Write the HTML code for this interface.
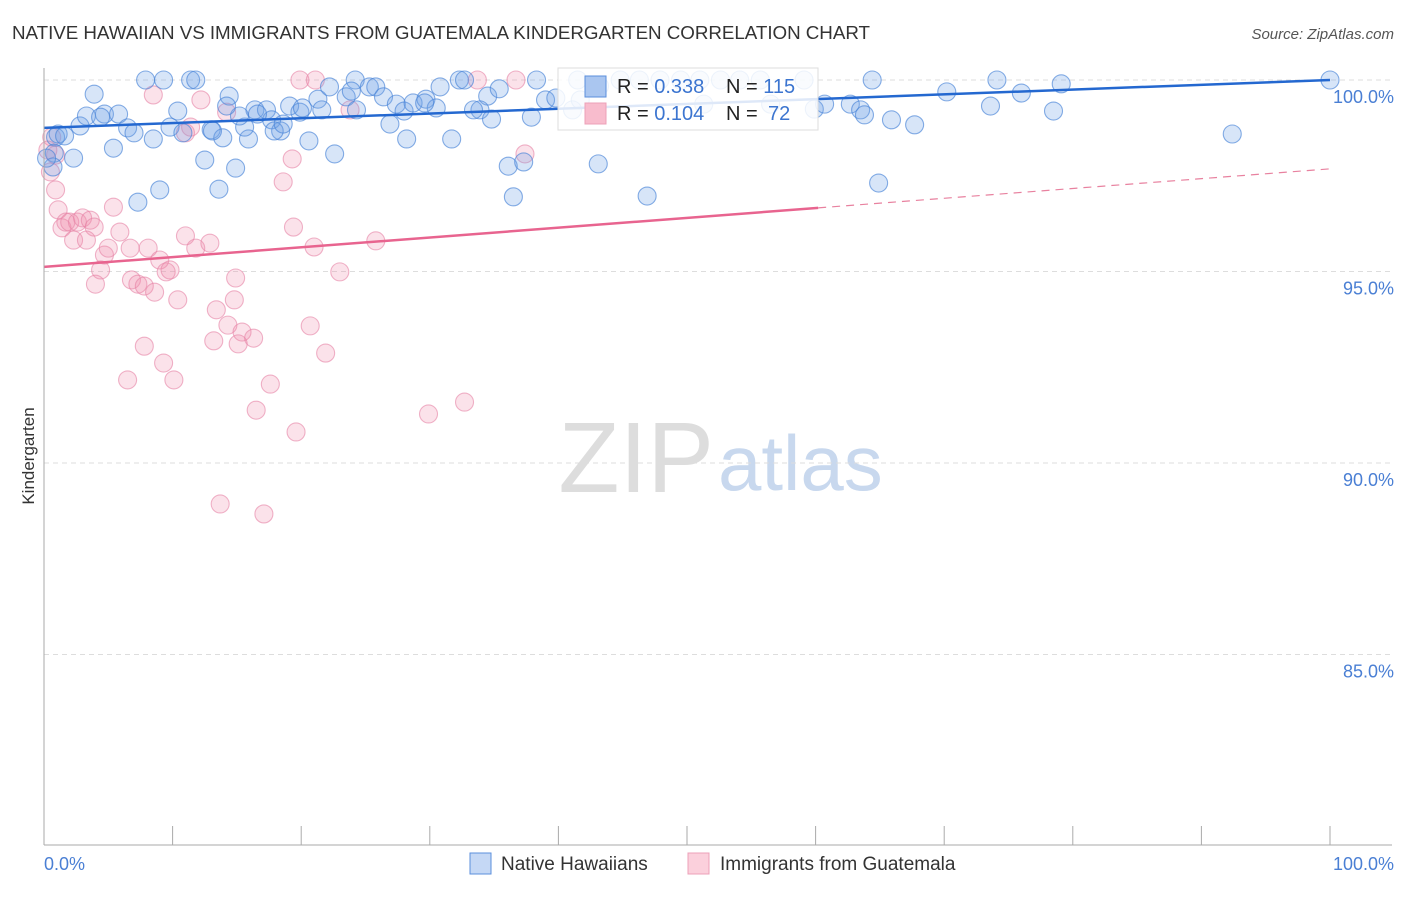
<!DOCTYPE html>
<html><head><meta charset="utf-8"><style>
body{margin:0;background:#fff;font-family:"Liberation Sans",sans-serif;}
svg text{font-family:"Liberation Sans",sans-serif;}
</style></head><body>
<svg id="c" width="1406" height="892">
<text x="12" y="39" font-size="18.8" fill="#333" textLength="858">NATIVE HAWAIIAN VS IMMIGRANTS FROM GUATEMALA KINDERGARTEN CORRELATION CHART</text>
<text x="1394" y="39" font-size="15" fill="#555" text-anchor="end" font-style="italic">Source: ZipAtlas.com</text>
<text x="714" y="492" font-size="100" fill="#ddd" text-anchor="end" font-family="Liberation Serif">ZIP</text>
<text x="718" y="490" font-size="78" fill="#c8d8ee">atlas</text>
<text x="34" y="456" font-size="17" fill="#333" text-anchor="middle" transform="rotate(-90 34 456)">Kindergarten</text>
<g id="grid"></g><g id="pts"></g><g id="lines"></g>
<line x1="44" y1="68" x2="44" y2="845" stroke="#aaa"/>
<line x1="44" y1="845" x2="1392" y2="845" stroke="#aaa"/>
<text x="44" y="870" font-size="18" fill="#4a7fd4">0.0%</text>
<text x="1394" y="870" font-size="18" fill="#4a7fd4" text-anchor="end">100.0%</text>
<g>
<rect x="558" y="68" width="260" height="62" fill="#fff" fill-opacity="0.85" stroke="#ddd"/>
<rect x="585" y="76" width="21" height="21" fill="#aac6f0" stroke="#5b8fdc"/>
<rect x="585" y="103" width="21" height="21" fill="#f8bccd" stroke="#eda0b8"/>
<text x="617" y="93" font-size="20" fill="#222">R = <tspan fill="#3c75d0">0.338</tspan><tspan x="726">N = </tspan><tspan fill="#3c75d0">115</tspan></text>
<text x="617" y="120" font-size="20" fill="#222">R = <tspan fill="#3c75d0">0.104</tspan><tspan x="726">N = </tspan><tspan fill="#3c75d0" x="768">72</tspan></text>
</g>
<g><rect x="470" y="853" width="21" height="21" fill="#c5d8f5" stroke="#5b8fdc"/><text x="501" y="870" font-size="19" fill="#333">Native Hawaiians</text></g>
<g><rect x="688" y="853" width="21" height="21" fill="#fbd0dc" stroke="#eda0b8"/><text x="720" y="870" font-size="19" fill="#333">Immigrants from Guatemala</text></g>
</svg>
<script>
const yTicks=[100,95,90,85];
const yTickLabels=["100.0%","95.0%","90.0%","85.0%"];
const xTicks=[0,10,20,30,40,50,60,70,80,90,100];
const blueX=[3.9,7.9,9.3,11.4,11.8,2.8,0.9,4.7,5.8,6.5,7.0,8.5,5.4,2.3,0.8,9.0,7.3,9.8,10.4,10.8,13.0,14.4,12.5,13.6,14.9,13.9,15.9,15.6,16.4,17.3,17.7,18.4,19.1,19.9,20.6,21.3,21.6,22.2,23.5,24.2,23.9,25.3,25.8,26.4,27.4,28.0,28.7,29.7,30.5,30.8,32.3,32.7,31.7,28.2,26.9,22.6,34.5,33.9,34.8,35.4,38.3,39.0,39.8,37.9,36.1,37.3,36.5,41.5,43.1,46.9,43.2,44.8,46.3,47.9,49.5,51.0,52.6,54.1,55.7,59.1,59.9,60.7,62.7,63.5,63.8,64.4,65.9,67.7,64.9,70.2,74.1,73.6,76.0,79.1,78.5,92.4,100,1.1,1.6,3.3,4.4,16.6,20.1,15.2,13.1,14.2,17.9,18.6,24.3,29.6,33.4,41.1,41.7,51.3,56.5,0.7,0.2];
const blueY=[99.63,100,100,100,100,98.80,98.51,99.11,99.11,98.75,98.62,98.46,98.22,97.96,98.09,97.13,96.81,98.77,99.19,98.62,98.70,99.58,97.91,97.15,97.70,98.49,98.46,98.77,99.22,99.22,98.96,98.67,99.32,99.16,98.41,99.50,99.22,99.82,99.56,100,99.71,99.82,99.82,99.56,99.37,99.19,99.40,99.50,99.27,99.82,100,100,98.46,98.46,98.85,98.07,99.58,99.22,98.98,99.77,100,99.48,99.53,99.03,97.75,97.86,96.95,100,97.81,96.97,99.84,100,100,100,100,100,100,100,100,100,99.24,99.37,99.37,99.22,99.09,100,98.96,98.83,97.31,99.69,100,99.32,99.66,99.90,99.19,98.59,100,98.59,98.54,99.06,99.03,99.11,99.27,99.06,98.67,99.32,98.67,98.85,99.22,99.40,99.22,99.22,99.48,99.37,99.37,97.73,97.96];
const pinkX=[8.5,12.2,14.2,11.0,11.4,19.9,21.1,23.8,33.7,36.7,37.4,19.3,18.6,19.4,21.0,25.8,23.0,0.6,0.5,0.9,1.1,1.4,1.7,2.0,2.6,3.0,3.6,3.9,2.3,3.3,5.4,5.9,4.7,5.0,6.7,8.1,6.8,4.4,4.0,7.3,7.8,9.0,9.5,9.8,8.6,10.4,11.0,11.8,12.9,14.9,14.8,13.4,14.3,15.4,16.3,13.2,15.1,7.8,9.3,10.1,6.5,17.6,20.7,21.9,16.5,19.6,29.9,32.7,13.7,17.1,0.9,0.3];
const pinkY=[99.61,99.48,99.16,98.62,98.77,100,100,99.22,100,100,98.07,97.94,97.34,96.16,95.64,95.80,94.99,98.51,97.60,97.13,96.61,96.14,96.29,96.29,96.29,96.40,96.34,96.16,95.82,95.82,96.68,96.03,95.43,95.61,95.61,95.61,94.78,95.04,94.67,94.67,94.62,95.30,94.99,95.04,94.46,94.26,95.93,95.61,95.74,94.83,94.26,94.00,93.60,93.42,93.26,93.19,93.11,93.05,92.61,92.17,92.17,92.06,93.58,92.87,91.38,90.81,91.28,91.59,88.93,88.67,98.04,98.17];
const blueTrend=[98.75,100];
const pinkTrend=[95.12,97.68];
const pinkSolidEnd=60.2;
const NS="http://www.w3.org/2000/svg";
const X=v=>44+v*12.86, Y=v=>80+(100-v)*38.3;
function mk(t,a,p){const e=document.createElementNS(NS,t);for(const k in a)e.setAttribute(k,a[k]);p.appendChild(e);return e;}
const grid=document.getElementById('grid'),pts=document.getElementById('pts'),lines=document.getElementById('lines'),svg=document.getElementById('c');
yTicks.forEach((v,i)=>{
 const l=mk('line',{x1:44,x2:1392,y1:Y(v),y2:Y(v),stroke:'#ddd','stroke-dasharray':'5,4'},grid);
 
 
 const t=mk('text',{x:1394,y:Y(v)+23,'font-size':18,fill:'#4a7fd4','text-anchor':'end'},svg);
 t.textContent=yTickLabels[i];
 
 
});
xTicks.forEach(v=>{
 const l=mk('line',{x1:X(v),x2:X(v),y1:826,y2:845,stroke:'#aaa'},svg);
 
 
});
function dots(xs,ys,fill,stroke,name){xs.forEach((x,i)=>{
 const c=mk('circle',{cx:X(x),cy:Y(ys[i]),r:9,fill:fill,stroke:stroke,'stroke-width':1.1},pts);
 
 
});}
dots(pinkX,pinkY,'rgba(240,140,170,0.25)','rgba(230,130,165,0.6)','guatemala-point');
dots(blueX,blueY,'rgba(110,160,230,0.28)','rgba(70,130,215,0.65)','hawaiian-point');
const bl=mk('line',{x1:X(0),y1:Y(blueTrend[0]),x2:X(100),y2:Y(blueTrend[1]),stroke:'#2468d0','stroke-width':2.5},lines);


const py=x=>pinkTrend[0]+(pinkTrend[1]-pinkTrend[0])*x/100;
const pl=mk('line',{x1:X(0),y1:Y(py(0)),x2:X(pinkSolidEnd),y2:Y(py(pinkSolidEnd)),stroke:'#e8648f','stroke-width':2.5},lines);


const pd=mk('line',{x1:X(pinkSolidEnd),y1:Y(py(pinkSolidEnd)),x2:X(100),y2:Y(py(100)),stroke:'#e8819f','stroke-width':1.2,'stroke-dasharray':'8,6'},lines);


</script>
</body></html>
